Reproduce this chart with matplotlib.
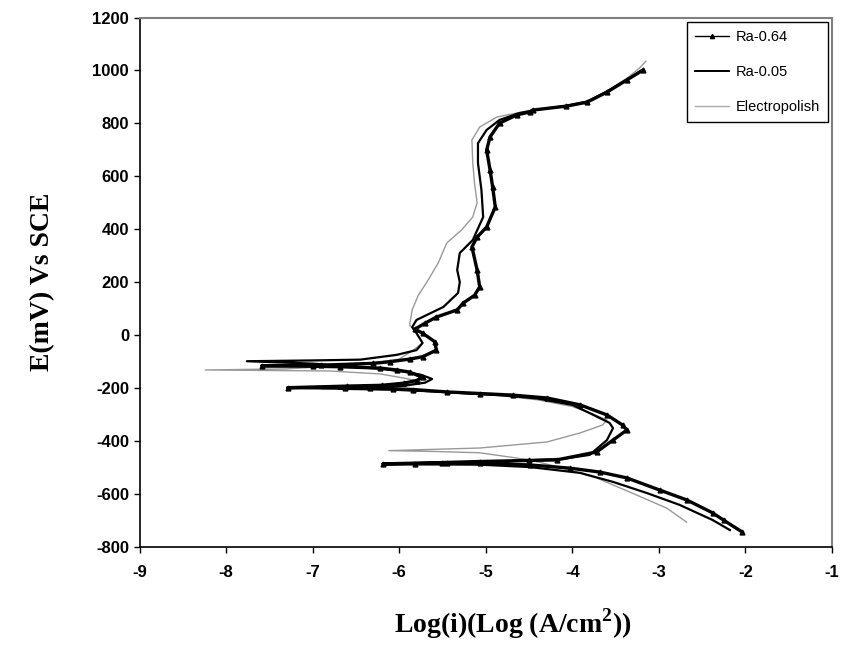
import matplotlib
matplotlib.use('Agg')
from matplotlib import pyplot as plt
from matplotlib.lines import Line2D

plt.rcParams['axes.unicode_minus'] = False
plt.rcParams['mathtext.fontset'] = 'custom'
plt.rcParams['mathtext.bf'] = 'Liberation Serif:bold'
plt.rcParams['mathtext.rm'] = 'Liberation Serif:bold'

# potential (mV vs SCE) and log current density, in sweep order
e_064 = [-744, -700, -672, -623, -586, -540, -518, -503, -491, -485, -485, -486, -487,
         -482, -478, -474, -472, -442, -397, -359, -340, -302, -264, -238, -227, -221,
         -215, -206, -203, -201, -200, -199,
         -193, -190, -182, -172, -160, -140, -132, -125, -120, -118, -116,
         -114, -107, -101, -91, -82, -57, -25, 7, 22, 45, 68, 95, 121, 150, 182,
         246, 333, 370, 408, 484, 559, 623, 699, 749, 801, 832, 843, 850, 865, 880,
         918, 964, 1002]
i_064 = [-2.04, -2.25, -2.38, -2.68, -2.99, -3.37, -3.68, -4.03, -4.49, -5.07, -5.45, -5.82, -6.19,
         -5.5, -5.07, -4.5, -4.18, -3.72, -3.53, -3.37, -3.42, -3.60, -3.91, -4.29, -4.69, -5.07,
         -5.45, -5.84, -6.07, -6.34, -6.63, -7.29,
         -6.6, -6.2, -5.95, -5.8, -5.73, -5.88, -6.03, -6.22, -6.68, -7.0, -7.59,
         -6.9, -6.3, -6.11, -5.88, -5.73, -5.57, -5.59, -5.73, -5.82, -5.7, -5.57, -5.33, -5.26, -5.13, -5.07,
         -5.10, -5.16, -5.10, -4.99, -4.89, -4.92, -4.95, -4.99, -4.95, -4.84, -4.64, -4.49, -4.46, -4.07, -3.83,
         -3.60, -3.37, -3.18]

e_005 = [-737, -699, -642, -597, -555, -521, -499, -490, -489, -488,
         -485, -480, -468, -453, -397, -352, -332, -295, -264, -240, -228, -221, -213, -206, -203,
         -198, -192, -180, -166, -150, -138, -128, -118, -108, -99,
         -96, -93, -75, -57, -30, 7, 30, 57, 106, 159, 200, 246, 310, 359, 446, 548, 650, 725,
         775, 813, 839, 852, 866, 882, 920, 965, 1000]
i_005 = [-2.18, -2.38, -2.76, -3.14, -3.53, -3.91, -4.49, -5.07, -5.6, -6.15,
         -5.5, -5.0, -4.11, -3.80, -3.60, -3.53, -3.57, -3.80, -4.0, -4.4, -4.8, -5.2, -5.6, -6.1, -6.7,
         -6.3, -5.95, -5.7, -5.62, -5.75, -5.95, -6.2, -6.6, -7.0, -7.76,
         -7.0, -6.45, -6.03, -5.80, -5.73, -5.80, -5.85, -5.80, -5.49, -5.32, -5.30, -5.33, -5.30, -5.15, -5.03, -5.05, -5.09, -5.09,
         -4.99, -4.84, -4.61, -4.4, -4.07, -3.83, -3.60, -3.37, -3.20]

e_ep = [-707, -654, -593, -540, -503, -472, -445, -440, -437,
        -432, -427, -404, -370, -340, -321, -300, -270, -245, -230, -222, -215, -208, -204,
        -198, -188, -175, -162, -147, -136, -132,
        -128, -118, -105, -91, -60, -30, 8, 38, 95, 150, 200, 272, 348, 397, 446, 500,
        574, 650, 737, 786, 824, 839, 850, 866, 883, 922, 970, 1010, 1035]
i_ep = [-2.68, -2.91, -3.34, -3.72, -4.11, -4.49, -5.07, -5.6, -6.12,
        -5.6, -5.07, -4.29, -3.91, -3.65, -3.60, -3.75, -4.0, -4.4, -4.8, -5.2, -5.6, -6.1, -6.9,
        -6.3, -5.9, -5.75, -5.96, -6.22, -6.8, -8.24,
        -7.3, -6.8, -6.3, -6.0, -5.85, -5.73, -5.80, -5.88, -5.85, -5.78, -5.68, -5.55, -5.45, -5.28, -5.15, -5.10,
        -5.13, -5.15, -5.16, -5.07, -4.87, -4.64, -4.45, -4.07, -3.83, -3.60, -3.37, -3.22, -3.15]

fig = plt.figure(figsize=(8.41, 6.46), dpi=100)
ax = fig.add_axes([0.1659, 0.1537, 0.8234, 0.8192])

ax.plot(i_ep, e_ep, color='#999999', linewidth=1.0)
ax.plot(i_005, e_005, color='black', linewidth=1.6)
ax.plot(i_064, e_064, color='black', linewidth=2.4, marker='^', markersize=3.5)

ax.set_xlim(-9, -1)
ax.set_ylim(-800, 1200)
ax.set_xticks(range(-9, 0))
ax.set_yticks(range(-800, 1201, 200))

for s in ['top', 'right']:
    ax.spines[s].set_color('#808080')
    ax.spines[s].set_linewidth(1.5)
for s in ['left', 'bottom']:
    ax.spines[s].set_linewidth(1.2)
ax.tick_params(axis='y', direction='out', length=4.5, width=1, pad=3)
ax.tick_params(axis='x', direction='out', length=4.5, width=1, pad=9)
for lab in ax.get_xticklabels() + ax.get_yticklabels():
    lab.set_fontfamily('Liberation Sans')
    lab.set_fontweight('bold')
    lab.set_fontsize(12)

ax.set_xlabel(r'Log(i)(Log (A/cm$^{\mathbf{2}}$))', fontfamily='Liberation Serif',
              fontweight='bold', fontsize=20)
ax.set_ylabel('E(mV) Vs SCE', fontfamily='Liberation Serif', fontweight='bold', fontsize=20)
ax.xaxis.set_label_coords(0.539, -0.112)
ax.yaxis.set_label_coords(-0.122, 0.5)

handles = [Line2D([], [], color='black', linewidth=1, marker='^', markersize=3),
           Line2D([], [], color='black', linewidth=1.4),
           Line2D([], [], color='#aaaaaa', linewidth=1)]
leg = ax.legend(handles, ['Ra-0.64', 'Ra-0.05', 'Electropolish'],
                loc='upper right', bbox_to_anchor=(0.994, 0.9915), borderaxespad=0,
                prop={'family': 'Liberation Sans', 'size': 10.5},
                fancybox=False, framealpha=1, edgecolor='black',
                handlelength=2.3, labelspacing=1.45, borderpad=0.55, handletextpad=0.45)
leg.get_frame().set_linewidth(1.0)

plt.savefig('out.png', dpi=100)
